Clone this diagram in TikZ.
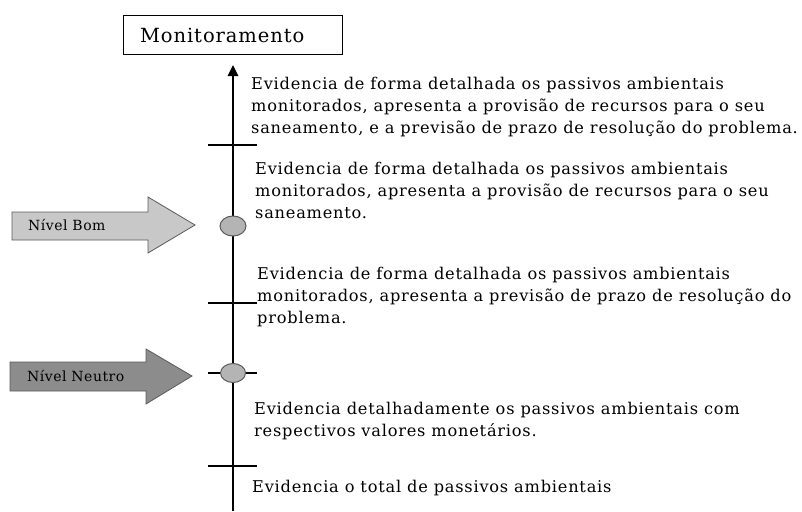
\documentclass[tikz,border=0pt]{standalone}
\usepackage{fontspec}
\setmainfont[LetterSpace=4.8]{DejaVu Serif}
\newfontfamily\lblfont[LetterSpace=3.5]{DejaVu Serif}
\usetikzlibrary{arrows.meta,shapes.geometric}
\definecolor{bomfill}{RGB}{200,200,200}
\definecolor{neufill}{RGB}{140,140,140}
\definecolor{circfill}{RGB}{180,180,180}
\definecolor{edgegray}{RGB}{90,90,90}
\begin{document}
\begin{tikzpicture}[x=1pt,y=-1pt,
  txt/.style={anchor=north west,inner sep=0pt,align=left,font=\fontsize{16.2}{22.2}\selectfont},
  tick/.style={line width=2pt,black},
  dot/.style={ellipse,draw=edgegray,fill=circfill,line width=1pt,inner sep=0pt},
  bigarrow/.style={draw=edgegray,line width=0.8pt,line join=miter},
  lvl/.style={anchor=west,inner sep=0pt,font=\lblfont\fontsize{14}{15}\selectfont}]
\useasboundingbox (0,0) rectangle (802,511);
% title box
\node[draw,line width=1pt,minimum width=219pt,minimum height=39pt,inner xsep=17pt,text width=185pt,align=left,font=\fontsize{19.5}{21}\selectfont] (mon) at (232.5,35.5) {Monitoramento};
% axis
\coordinate (axbot) at (233,511);
\coordinate (axtop) at (233,65);
\draw[line width=2.5pt,-{Triangle[width=10pt,length=11pt]}] (axbot) -- (axtop);
% ticks
\draw[tick] (208,145) -- (257,145);
\draw[tick] (208,303) -- (257,303);
\draw[tick] (208,373) -- (257,373);
\draw[tick] (208,466) -- (257,466);
% circles
\node[dot,minimum width=26pt,minimum height=20pt] (bom) at (233,226) {};
\node[dot,minimum width=25pt,minimum height=19pt] (neutro) at (233,373) {};
% level arrows
\draw[bigarrow,fill=bomfill] (12,212) -- (148,212) -- (148,197) -- (195,225) -- (148,253) -- (148,240) -- (12,240) -- cycle;
\node[lvl] (lbom) at (28,225) {Nível Bom};
\draw[bigarrow,fill=neufill] (10,362) -- (146,362) -- (146,349) -- (192,376) -- (146,404) -- (146,391) -- (10,391) -- cycle;
\node[lvl] (lneu) at (27,376) {Nível Neutro};
% texts
\node[txt] (t1) at (251,77) {Evidencia de forma detalhada os passivos ambientais\\monitorados, apresenta a provisão de recursos para o seu\\saneamento, e a previsão de prazo de resolução do problema.};
\node[txt] (t2) at (255,161.5) {Evidencia de forma detalhada os passivos ambientais\\monitorados, apresenta a provisão de recursos para o seu\\saneamento.};
\node[txt] (t3) at (257,266.5) {Evidencia de forma detalhada os passivos ambientais\\monitorados, apresenta a previsão de prazo de resolução do\\problema.};
\node[txt] (t4) at (254,402) {Evidencia detalhadamente os passivos ambientais com\\respectivos valores monetários.};
\node[txt] (t5) at (252,480) {Evidencia o total de passivos ambientais};
\end{tikzpicture}
\end{document}
